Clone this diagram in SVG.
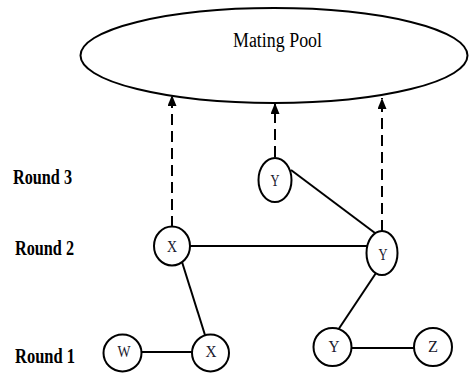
<svg xmlns="http://www.w3.org/2000/svg" width="469" height="373" viewBox="0 0 469 373">
<style>
.shape{fill:none;stroke:#000;stroke-width:2}
.node{fill:#fff;stroke:#000;stroke-width:2}
.edge{stroke:#000;stroke-width:2;fill:none}
.dash{stroke:#000;stroke-width:2;fill:none;stroke-dasharray:11 6}
.lbl{font-family:"Liberation Serif","Times New Roman",serif;font-weight:bold;font-size:20px;fill:#000}
.nt{font-family:"Liberation Serif","Times New Roman",serif;font-size:16px;fill:#1a1a2e;text-anchor:middle}
.pool{font-family:"Liberation Serif","Times New Roman",serif;font-size:20px;fill:#000}
</style>
<defs>
<marker id="ah" markerWidth="11" markerHeight="9" refX="11" refY="4.5" orient="auto" markerUnits="userSpaceOnUse" viewBox="0 0 11 9">
<path d="M0,0 L11,4.5 L0,9 Z" fill="#000"/>
</marker>
</defs>
<rect width="469" height="373" fill="#fff"/>
<g id="pool">
<ellipse class="shape" cx="274" cy="55.5" rx="193.5" ry="47.5"/>
<text class="pool" x="233" y="47" textLength="89" lengthAdjust="spacingAndGlyphs">Mating Pool</text>
</g>
<g id="labels">
<text class="lbl" x="13" y="184" textLength="59" lengthAdjust="spacingAndGlyphs">Round 3</text>
<text class="lbl" x="15" y="255" textLength="59" lengthAdjust="spacingAndGlyphs">Round 2</text>
<text class="lbl" x="15" y="363" textLength="60" lengthAdjust="spacingAndGlyphs">Round 1</text>
</g>
<g id="connectors">
<path class="dash" d="M172,227 L172,96"/>
<path class="dash" d="M275,157 L275,104"/>
<path class="dash" d="M382,231 L382,99"/>
<path d="M172,96 L172,95" marker-end="url(#ah)" class="edge"/>
<path d="M275,104 L275,103" marker-end="url(#ah)" class="edge"/>
<path d="M382,99 L382,98" marker-end="url(#ah)" class="edge"/>
<line class="edge" x1="291" y1="170" x2="375" y2="233"/>
<line class="edge" x1="190" y1="246" x2="367" y2="246"/>
<line class="edge" x1="182" y1="262" x2="205" y2="335"/>
<line class="edge" x1="376" y1="273" x2="338" y2="330"/>
<line class="edge" x1="141" y1="352" x2="192" y2="352"/>
<line class="edge" x1="352" y1="348" x2="414" y2="348"/>
</g>
<g id="n_y3"><ellipse class="node" cx="275" cy="180" rx="16.5" ry="22"/><text class="nt" x="275" y="186" textLength="9" lengthAdjust="spacingAndGlyphs">Y</text></g>
<g id="n_x2"><ellipse class="node" cx="172" cy="246" rx="18" ry="19.5"/><text class="nt" x="172" y="252" textLength="10" lengthAdjust="spacingAndGlyphs">X</text></g>
<g id="n_y2"><ellipse class="node" cx="382" cy="253" rx="15.5" ry="22"/><text class="nt" x="383" y="260" textLength="9" lengthAdjust="spacingAndGlyphs">Y</text></g>
<g id="n_w1"><ellipse class="node" cx="122.5" cy="353" rx="19" ry="18.5"/><text class="nt" x="124" y="357" textLength="13" lengthAdjust="spacingAndGlyphs">W</text></g>
<g id="n_x1"><ellipse class="node" cx="210.5" cy="353" rx="18.5" ry="18.5"/><text class="nt" x="211" y="357" textLength="11" lengthAdjust="spacingAndGlyphs">X</text></g>
<g id="n_y1"><ellipse class="node" cx="332.5" cy="347" rx="19" ry="19"/><text class="nt" x="334" y="352" textLength="11" lengthAdjust="spacingAndGlyphs">Y</text></g>
<g id="n_z1"><ellipse class="node" cx="433" cy="347" rx="19" ry="19"/><text class="nt" x="433" y="352" textLength="10" lengthAdjust="spacingAndGlyphs">Z</text></g>
</svg>
